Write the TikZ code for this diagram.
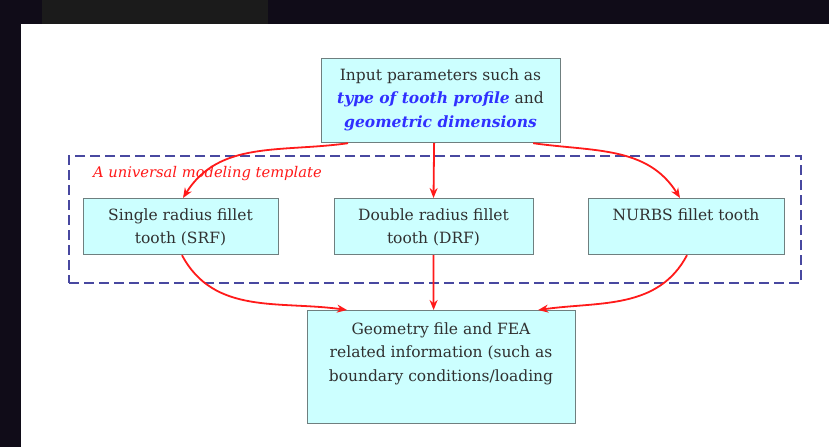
\documentclass[tikz,border=0pt]{standalone}
\usepackage{fontspec}
\setmainfont{DejaVu Serif}
\usetikzlibrary{arrows.meta,calc}
\definecolor{bgdark}{HTML}{100C18}
\definecolor{bgtab}{HTML}{1B1B1B}
\definecolor{boxfill}{HTML}{CCFFFF}
\definecolor{boxdraw}{HTML}{6F7F7F}
\definecolor{txt}{HTML}{303030}
\definecolor{bluetxt}{HTML}{3030FF}
\definecolor{redarr}{HTML}{FF1A1A}
\definecolor{navy}{HTML}{4848A0}
\begin{document}
\begin{tikzpicture}[x=1pt,y=-1pt,
  box/.style={draw=boxdraw,fill=boxfill,line width=1.2pt,inner sep=0pt,anchor=north west},
  arr/.style={draw=redarr,line width=1.8pt,-{Stealth[length=10pt,width=8pt]}},
  boxtext/.style={font=\fontsize{15.5}{23.5}\selectfont,text=txt}]
\useasboundingbox (0,0) rectangle (829,447);
\fill[bgdark] (0,0) rectangle (829,447);
\fill[bgtab] (42,0) rectangle (268,24);
\fill[white] (21,24) rectangle (829,447);
% dashed frame
\node[draw=navy,dash pattern=on 10pt off 5pt,line width=2pt,minimum width=732pt,minimum height=127pt,anchor=north west,inner sep=0pt] (frame) at (68,155) {};
\node[anchor=west,text=redarr,font=\fontsize{14.7}{16}\selectfont\itshape,inner sep=0pt] (lbl) at (93,174) {A universal modeling template};
% boxes
\node[box,minimum width=239pt,minimum height=84pt] (top) at (321,58) {};
\node[boxtext,align=center,anchor=north] (toptext) at (440.5,65) {Input parameters such as\\
{\color{bluetxt}\bfseries\itshape type of tooth profile} and\\
{\color{bluetxt}\bfseries\itshape geometric dimensions}};
\node[box,minimum width=195pt,minimum height=56pt] (srf) at (83,198) {};
\node[boxtext,align=center,anchor=north] (srftext) at (180.5,205) {Single radius fillet\\tooth (SRF)};
\node[box,minimum width=199pt,minimum height=56pt] (drf) at (334,198) {};
\node[boxtext,align=center,anchor=north] (drftext) at (433.5,205) {Double radius fillet\\tooth (DRF)};
\node[box,minimum width=196pt,minimum height=56pt] (nurbs) at (588,198) {};
\node[boxtext,align=center,anchor=north] (nurbstext) at (686,205) {NURBS fillet tooth};
\node[box,minimum width=268pt,minimum height=113pt] (bot) at (307,310) {};
\node[boxtext,align=center,anchor=north] (bottext) at (441,319) {Geometry file and FEA\\related information (such as\\boundary conditions/loading};
% connector end points
\coordinate (t1) at ($(top.south west)+(27,0)$);
\coordinate (t2) at ($(top.south)+(-7,0)$);
\coordinate (t3) at ($(top.south east)+(-28,0)$);
\coordinate (s1) at ($(srf.north west)+(100,0)$);
\coordinate (s2) at ($(srf.south west)+(99,0)$);
\coordinate (d1) at ($(drf.north west)+(99.5,0)$);
\coordinate (d2) at ($(drf.south west)+(99.5,0)$);
\coordinate (n1) at ($(nurbs.north west)+(92,0)$);
\coordinate (n2) at ($(nurbs.south west)+(99,0)$);
\coordinate (b1) at ($(bot.north west)+(40,0)$);
\coordinate (b2) at ($(bot.north)+(-8,0)$);
\coordinate (b3) at ($(bot.north east)+(-38,0)$);
\draw[arr] (t1) to[out=188,in=58] (s1);
\draw[arr] (t2) -- (d1);
\draw[arr] (t3) to[out=-8,in=122] (n1);
\draw[arr] (s2) to[out=-62,in=172] (b1);
\draw[arr] (d2) -- (b2);
\draw[arr] (n2) to[out=-118,in=8] (b3);
\end{tikzpicture}
\end{document}
